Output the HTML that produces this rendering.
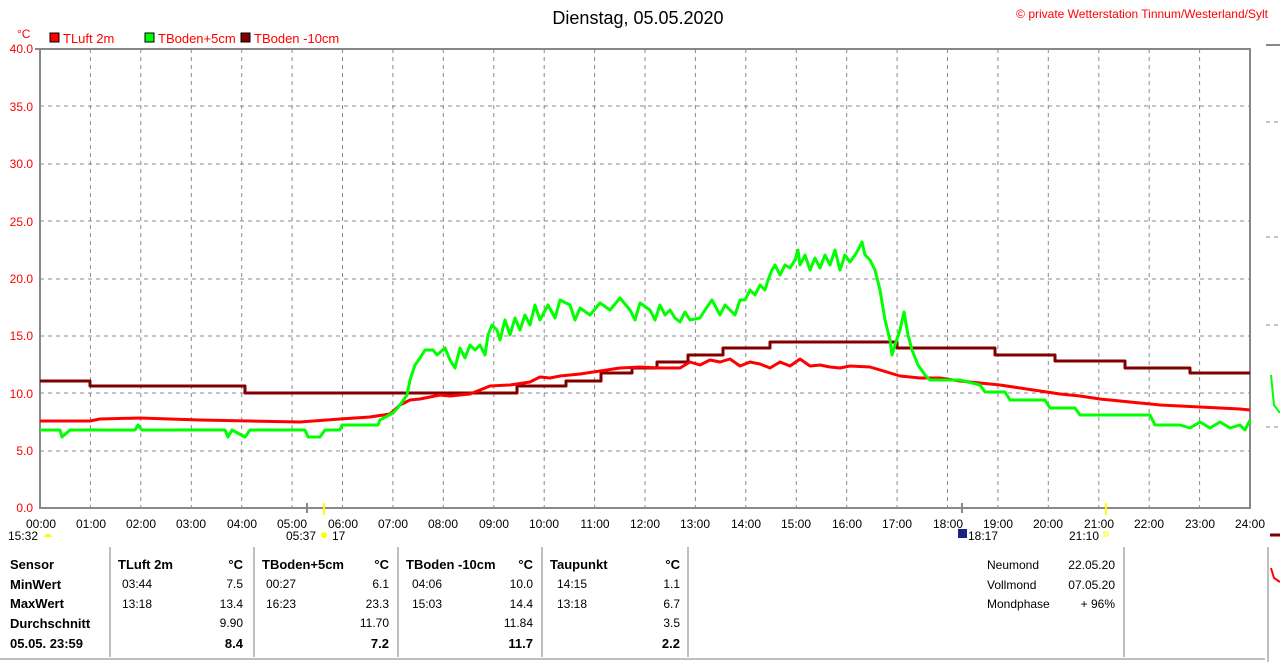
<!DOCTYPE html>
<html><head><meta charset="utf-8"><style>
body{margin:0;background:#fff;width:1280px;height:662px;overflow:hidden;font-family:"Liberation Sans",Arial,sans-serif}
svg text{font-family:"Liberation Sans",Arial,sans-serif}
</style></head><body>
<svg width="1280" height="662" viewBox="0 0 1280 662" xmlns="http://www.w3.org/2000/svg">
<rect width="1280" height="662" fill="#fff"/>
<text x="638" y="24" font-size="18" text-anchor="middle" fill="#000">Dienstag, 05.05.2020</text>
<text x="1268" y="18" font-size="12" text-anchor="end" fill="#f00">© private Wetterstation Tinnum/Westerland/Sylt</text>
<text x="17" y="38" font-size="12" fill="#f00">°C</text>
<rect x="50" y="33" width="9" height="9" fill="#f00" stroke="#000"/><text x="63" y="43" font-size="13" fill="#f00">TLuft 2m</text>
<rect x="145" y="33" width="9" height="9" fill="#0f0" stroke="#000"/><text x="158" y="43" font-size="13" fill="#f00">TBoden+5cm</text>
<rect x="241" y="33" width="9" height="9" fill="#800000" stroke="#000"/><text x="254" y="43" font-size="13" fill="#f00">TBoden -10cm</text>
<g stroke="#888" stroke-dasharray="4,4" stroke-width="1">
<line x1="40" y1="106" x2="1250" y2="106"/><line x1="40" y1="164" x2="1250" y2="164"/><line x1="40" y1="221" x2="1250" y2="221"/><line x1="40" y1="279" x2="1250" y2="279"/><line x1="40" y1="336" x2="1250" y2="336"/><line x1="40" y1="393" x2="1250" y2="393"/><line x1="40" y1="451" x2="1250" y2="451"/>
<line x1="90.4" y1="49" x2="90.4" y2="508"/><line x1="140.8" y1="49" x2="140.8" y2="508"/><line x1="191.3" y1="49" x2="191.3" y2="508"/><line x1="241.7" y1="49" x2="241.7" y2="508"/><line x1="292.1" y1="49" x2="292.1" y2="508"/><line x1="342.5" y1="49" x2="342.5" y2="508"/><line x1="392.9" y1="49" x2="392.9" y2="508"/><line x1="443.3" y1="49" x2="443.3" y2="508"/><line x1="493.8" y1="49" x2="493.8" y2="508"/><line x1="544.2" y1="49" x2="544.2" y2="508"/><line x1="594.6" y1="49" x2="594.6" y2="508"/><line x1="645" y1="49" x2="645" y2="508"/><line x1="695.4" y1="49" x2="695.4" y2="508"/><line x1="745.8" y1="49" x2="745.8" y2="508"/><line x1="796.3" y1="49" x2="796.3" y2="508"/><line x1="846.7" y1="49" x2="846.7" y2="508"/><line x1="897.1" y1="49" x2="897.1" y2="508"/><line x1="947.5" y1="49" x2="947.5" y2="508"/><line x1="997.9" y1="49" x2="997.9" y2="508"/><line x1="1048.3" y1="49" x2="1048.3" y2="508"/><line x1="1098.8" y1="49" x2="1098.8" y2="508"/><line x1="1149.2" y1="49" x2="1149.2" y2="508"/><line x1="1199.6" y1="49" x2="1199.6" y2="508"/>
</g>
<g stroke="#888" stroke-width="2" fill="none"><path d="M40 49 L1250 49 L1250 508 L40 508 Z"/><line x1="35" y1="49" x2="40" y2="49"/></g>
<g font-size="12" fill="#f00" text-anchor="end">
<text x="33" y="53">40.0</text><text x="33" y="111">35.0</text><text x="33" y="168">30.0</text><text x="33" y="226">25.0</text><text x="33" y="283">20.0</text><text x="33" y="340">15.0</text><text x="33" y="398">10.0</text><text x="33" y="455">5.0</text><text x="33" y="512">0.0</text>
</g>
<g font-size="12" fill="#000" text-anchor="middle">
<text x="41" y="528">00:00</text><text x="91" y="528">01:00</text><text x="141" y="528">02:00</text><text x="191" y="528">03:00</text><text x="242" y="528">04:00</text><text x="292" y="528">05:00</text><text x="343" y="528">06:00</text><text x="393" y="528">07:00</text><text x="443" y="528">08:00</text><text x="494" y="528">09:00</text><text x="544" y="528">10:00</text><text x="595" y="528">11:00</text><text x="645" y="528">12:00</text><text x="695" y="528">13:00</text><text x="746" y="528">14:00</text><text x="796" y="528">15:00</text><text x="847" y="528">16:00</text><text x="897" y="528">17:00</text><text x="948" y="528">18:00</text><text x="998" y="528">19:00</text><text x="1048" y="528">20:00</text><text x="1099" y="528">21:00</text><text x="1149" y="528">22:00</text><text x="1200" y="528">23:00</text><text x="1250" y="528">24:00</text>
</g>
<g font-size="12" fill="#000">
<text x="8" y="540">15:32</text><text x="286" y="540">05:37</text><text x="332" y="540">17</text><text x="968" y="540">18:17</text><text x="1069" y="540">21:10</text>
</g>
<path d="M44 537 Q48 530 52 537 Z" fill="#ff0"/>
<circle cx="324" cy="535" r="3" fill="#ff0"/>
<line x1="324" y1="503" x2="324" y2="515" stroke="#ff0" stroke-width="2"/>
<line x1="1106" y1="503" x2="1106" y2="515" stroke="#ff0" stroke-width="2"/>
<line x1="307" y1="503" x2="307" y2="513" stroke="#888" stroke-width="2"/>
<line x1="962" y1="503" x2="962" y2="513" stroke="#888" stroke-width="2"/>
<rect x="958" y="529" width="9" height="9" fill="#1a237e"/>
<rect x="1104" y="532" width="4" height="4" fill="none" stroke="#ff0"/>
<g fill="none" stroke-width="3" stroke-linejoin="round">
<path stroke="#800000" d="M40 381 L90 381 L90 386 L245 386 L245 393 L517 393 L517 386 L566 386 L566 381 L601 381 L601 373 L632 373 L632 368 L657 368 L657 362 L688 362 L688 355 L723 355 L723 348 L770 348 L770 342 L897 342 L897 348 L995 348 L995 355 L1055 355 L1055 361 L1125 361 L1125 368 L1190 368 L1190 373 L1250 373"/>
<path stroke="#f00" d="M40 421 L90 421 L100 419 L140 418 L200 420 L250 421 L300 422 L340 419 L370 417 L390 414 L400 405 L410 400 L420 399 L430 397 L440 395 L450 396 L470 394 L490 386 L510 385 L530 382 L540 377 L550 378 L560 376 L580 374 L600 371 L620 368 L640 367 L660 368 L680 368 L690 362 L700 365 L710 360 L720 362 L730 359 L740 366 L750 362 L760 364 L770 368 L780 362 L790 366 L800 359 L810 366 L820 365 L830 367 L840 368 L850 366 L870 367 L890 373 L900 376 L920 378 L940 378 L960 381 L980 383 L1000 385 L1020 388 L1040 391 L1060 394 L1080 396 L1100 399 L1120 401 L1140 403 L1160 405 L1180 406 L1200 407 L1220 408 L1240 409 L1250 410"/>
<path stroke="#0f0" d="M40 430 L60 430 L62 437 L70 430 L135 430 L138 425 L142 430 L225 430 L228 437 L232 430 L245 437 L250 430 L305 430 L308 437 L320 437 L325 430 L340 430 L342 425 L378 425 L380 420 L393 413 L400 405 L407 395 L410 380 L415 365 L420 358 L425 350 L433 350 L437 355 L445 348 L450 360 L455 368 L460 348 L465 358 L470 345 L475 350 L480 345 L485 355 L488 335 L492 325 L497 330 L500 340 L505 320 L510 335 L515 318 L520 330 L525 315 L530 325 L535 305 L540 320 L548 305 L555 318 L560 300 L570 305 L575 320 L580 308 L590 315 L600 303 L610 310 L620 298 L630 310 L635 320 L640 303 L650 310 L655 320 L660 305 L665 315 L670 310 L675 318 L680 322 L685 312 L690 320 L700 318 L705 310 L712 300 L720 315 L725 305 L735 315 L740 300 L745 300 L750 290 L755 295 L760 285 L765 290 L768 280 L772 270 L775 265 L780 275 L785 265 L790 268 L795 260 L798 250 L800 265 L805 255 L810 270 L815 258 L820 268 L825 255 L830 265 L835 250 L840 270 L845 255 L850 262 L855 255 L858 250 L862 242 L865 255 L870 260 L875 270 L880 290 L885 320 L890 340 L892 355 L895 345 L900 330 L904 312 L908 335 L912 350 L918 365 L925 375 L930 380 L960 380 L980 385 L985 392 L1005 392 L1010 400 L1045 400 L1050 408 L1075 408 L1080 415 L1150 415 L1155 425 L1180 425 L1190 428 L1200 422 L1210 428 L1220 422 L1230 428 L1240 425 L1245 430 L1250 420"/>
</g>
<g stroke="#888" stroke-dasharray="4,4"><line x1="1266" y1="122" x2="1280" y2="122"/><line x1="1266" y1="237" x2="1280" y2="237"/><line x1="1266" y1="325" x2="1280" y2="325"/><line x1="1266" y1="427" x2="1280" y2="427"/></g>
<line x1="1266" y1="45" x2="1280" y2="45" stroke="#888" stroke-width="2"/>
<path d="M1271 375 L1274 405 L1280 413" stroke="#0f0" stroke-width="2" fill="none"/>
<path d="M1271 568 L1274 578 L1280 582" stroke="#f00" stroke-width="2" fill="none"/>
<line x1="1270" y1="535" x2="1280" y2="535" stroke="#800000" stroke-width="3"/>
<g stroke="#aaa" stroke-width="1.5"><line x1="110" y1="547" x2="110" y2="657"/><line x1="254" y1="547" x2="254" y2="657"/><line x1="398" y1="547" x2="398" y2="657"/><line x1="542" y1="547" x2="542" y2="657"/><line x1="688" y1="547" x2="688" y2="657"/><line x1="1124" y1="547" x2="1124" y2="657"/><line x1="1268" y1="547" x2="1268" y2="662"/><line x1="0" y1="659" x2="1265" y2="659"/></g>
<g font-size="13" fill="#000" font-weight="bold">
<text x="10" y="569">Sensor</text><text x="10" y="589">MinWert</text><text x="10" y="608">MaxWert</text><text x="10" y="628">Durchschnitt</text><text x="10" y="648">05.05. 23:59</text>
<text x="118" y="569">TLuft 2m</text><text x="243" y="569" text-anchor="end">°C</text>
<text x="262" y="569">TBoden+5cm</text><text x="389" y="569" text-anchor="end">°C</text>
<text x="406" y="569">TBoden -10cm</text><text x="533" y="569" text-anchor="end">°C</text>
<text x="550" y="569">Taupunkt</text><text x="680" y="569" text-anchor="end">°C</text>
<text x="243" y="648" text-anchor="end">8.4</text><text x="389" y="648" text-anchor="end">7.2</text><text x="533" y="648" text-anchor="end">11.7</text><text x="680" y="648" text-anchor="end">2.2</text>
</g>
<g font-size="12" fill="#000">
<text x="122" y="588">03:44</text><text x="243" y="588" text-anchor="end">7.5</text>
<text x="122" y="608">13:18</text><text x="243" y="608" text-anchor="end">13.4</text>
<text x="243" y="627" text-anchor="end">9.90</text>
<text x="266" y="588">00:27</text><text x="389" y="588" text-anchor="end">6.1</text>
<text x="266" y="608">16:23</text><text x="389" y="608" text-anchor="end">23.3</text>
<text x="389" y="627" text-anchor="end">11.70</text>
<text x="412" y="588">04:06</text><text x="533" y="588" text-anchor="end">10.0</text>
<text x="412" y="608">15:03</text><text x="533" y="608" text-anchor="end">14.4</text>
<text x="533" y="627" text-anchor="end">11.84</text>
<text x="557" y="588">14:15</text><text x="680" y="588" text-anchor="end">1.1</text>
<text x="557" y="608">13:18</text><text x="680" y="608" text-anchor="end">6.7</text>
<text x="680" y="627" text-anchor="end">3.5</text>
<text x="987" y="569">Neumond</text><text x="1115" y="569" text-anchor="end">22.05.20</text>
<text x="987" y="589">Vollmond</text><text x="1115" y="589" text-anchor="end">07.05.20</text>
<text x="987" y="608">Mondphase</text><text x="1115" y="608" text-anchor="end">+ 96%</text>
</g>
</svg>
</body></html>
